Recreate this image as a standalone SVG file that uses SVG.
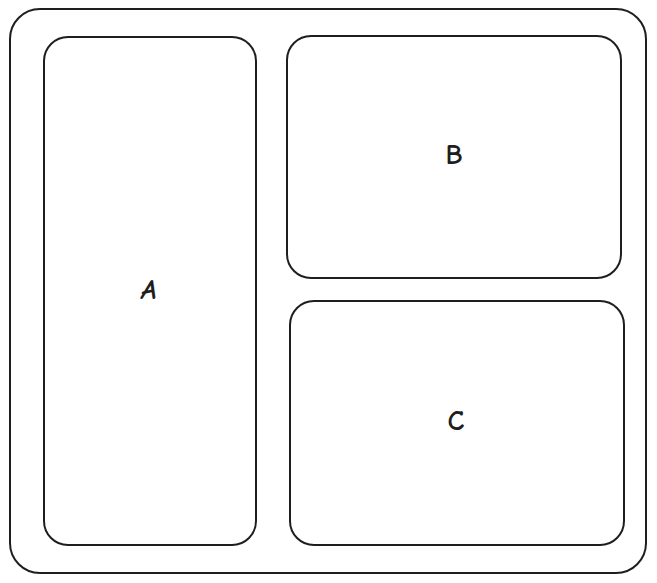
<svg xmlns="http://www.w3.org/2000/svg" width="657" height="583" viewBox="0 0 657 583">
<style>
.box{fill:none;stroke:#1e1e1e;stroke-width:2;stroke-linecap:round;stroke-linejoin:round}
.lbl{font-family:"Comic Neue","Liberation Sans",sans-serif;font-size:28px;font-weight:bold;fill:#1e1e1e;text-anchor:middle;dominant-baseline:central}
</style>
<rect width="657" height="583" fill="#ffffff"/>
<g id="frame"><rect class="box" x="10" y="9" width="636" height="564" rx="30"/></g>
<g id="A"><rect class="box" x="44" y="37" width="212" height="508" rx="24"/><text class="lbl" x="149" y="290" font-style="italic">A</text></g>
<g id="B"><rect class="box" x="287" y="36" width="334" height="242" rx="24"/><text class="lbl" x="454" y="155">B</text></g>
<g id="C"><rect class="box" x="290" y="301" width="334" height="244" rx="24"/><text class="lbl" x="456" y="421">C</text></g>
<g id="connectors"></g>
</svg>
